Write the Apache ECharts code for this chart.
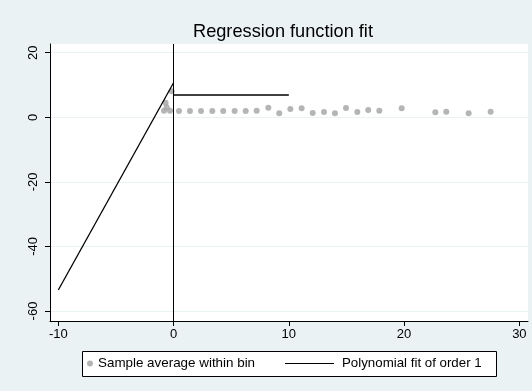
<!DOCTYPE html>
<html>
<head>
<meta charset="utf-8">
<script src="https://cdn.jsdelivr.net/npm/echarts@6/dist/echarts.min.js"></script>
<style>
html,body{margin:0;padding:0;background:#EAF2F3;}
#chart{width:532px;height:391px;}
</style>
</head>
<body>
<div id="chart"></div>
<script>
// Binned sample averages
const binX = [-0.83, -0.69, -0.6, -0.31, -0.16, 0.47, 1.42, 2.38, 3.36, 4.31, 5.30, 6.26, 7.21, 8.22, 9.17, 10.13, 11.11, 12.07, 13.05, 14.0, 14.96, 15.94, 16.89, 17.85, 19.79, 22.71, 23.66, 25.6, 27.51];
const binY = [2.04, 4.5, 3.1, 2.04, 8.1, 1.95, 1.95, 1.95, 1.95, 1.95, 1.95, 1.95, 2.04, 2.97, 1.23, 2.56, 2.78, 1.33, 1.64, 1.23, 2.87, 1.64, 2.25, 2.04, 2.78, 1.54, 1.73, 1.23, 1.73];
// Polynomial fit (order 1) on each side of the cutoff
const fitLeftX = [-10, 0];
const fitLeftY = [-53.5, 10.7];
const fitRightX = [0, 10];
const fitRightY = [6.9, 6.9];
const cutoff = 0;
const xTicks = [-10, 0, 10, 20, 30];
const yTicks = [-60, -40, -20, 0, 20];
const xRange = [-10.72, 30.75];
const yRange = [-63.1, 22.7];
const titleText = 'Regression function fit';
const scatterName = 'Sample average within bin';
const fitName = 'Polynomial fit of order 1';

const chart = echarts.init(document.getElementById('chart'), null, {renderer: 'canvas'});
const font = 'Liberation Sans, Arial, Helvetica, sans-serif';
const zip = (a, b) => a.map((v, i) => [v, b[i]]);

chart.setOption({
  backgroundColor: '#EAF2F3',
  animation: false,
  title: {
    text: titleText,
    left: 193, top: 23,
    padding: 0,
    textStyle: {fontFamily: font, fontSize: 18.2, fontWeight: 'normal', color: '#000'}
  },
  grid: {left: 50, top: 44, width: 478, height: 277, show: true, backgroundColor: '#fff', borderWidth: 0},
  xAxis: {
    type: 'value', min: xRange[0], max: xRange[1],
    axisLine: {show: true, onZero: false, lineStyle: {color: '#000', width: 1}},
    axisTick: {show: true, length: 5, customValues: xTicks, lineStyle: {color: '#000'}},
    axisLabel: {customValues: xTicks, margin: 7, fontFamily: font, fontSize: 13, color: '#000'},
    splitLine: {show: false}
  },
  yAxis: {
    type: 'value', min: yRange[0], max: yRange[1],
    axisLine: {show: true, onZero: false, lineStyle: {color: '#000', width: 1}},
    axisTick: {show: true, length: 5, customValues: yTicks, lineStyle: {color: '#000'}},
    axisLabel: {customValues: yTicks, rotate: 90, margin: 10, fontFamily: font, fontSize: 13, color: '#000'},
    splitLine: {show: true, lineStyle: {color: '#EAF2F3', width: 1}}
  },
  graphic: [{
    type: 'rect', left: 82, top: 351, z: 0,
    shape: {width: 414, height: 25},
    style: {fill: '#fff', stroke: '#000', lineWidth: 1}
  }],
  legend: [{
    data: [scatterName], left: 87, top: 357, icon: 'circle', itemWidth: 6, itemHeight: 6,
    padding: 0, textStyle: {fontFamily: font, fontSize: 13.4, color: '#000'}
  }, {
    data: [{name: fitName, icon: 'rect'}], left: 285, top: 357, itemWidth: 49, itemHeight: 1,
    padding: 0, textStyle: {fontFamily: font, fontSize: 13.3, color: '#000', padding: [0, 0, 0, 3]}
  }],
  series: [{
    name: scatterName, type: 'scatter', symbol: 'circle', symbolSize: 6,
    itemStyle: {color: '#A3A3A3'},
    data: zip(binX, binY), z: 3
  }, {
    name: fitName, type: 'line', symbol: 'none', data: zip(fitLeftX, fitLeftY),
    lineStyle: {color: '#000', width: 1.3}, itemStyle: {color: '#000'}, z: 4,
    markLine: {
      silent: true, symbol: ['none', 'none'], label: {show: false},
      lineStyle: {color: '#000', width: 1, type: 'solid'},
      data: [{xAxis: cutoff}]
    }
  }, {
    name: fitName, type: 'line', symbol: 'none', data: zip(fitRightX, fitRightY),
    lineStyle: {color: '#000', width: 1.3}, itemStyle: {color: '#000'}, z: 4
  }]
});
</script>
</body>
</html>
